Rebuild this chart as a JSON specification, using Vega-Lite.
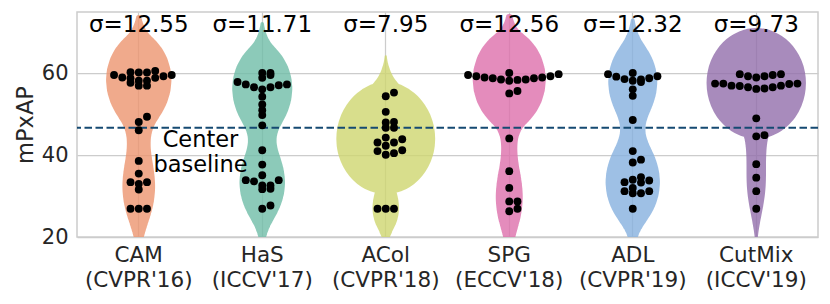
{
  "$schema": "https://vega.github.io/schema/vega-lite/v6.json",
  "width": 741,
  "height": 225,
  "autosize": "none",
  "padding": {"left": 77, "top": 12, "right": 12, "bottom": 67},
  "background": "white",
  "config": {
    "font": "DejaVu Sans",
    "view": {"stroke": "#cccccc", "strokeWidth": 1.5},
    "axis": {"labelFont": "DejaVu Sans", "titleFont": "DejaVu Sans", "labelColor": "#262626", "titleColor": "#262626", "domain": false, "ticks": false, "gridColor": "#cccccc", "gridWidth": 1.25, "gridOpacity": 1}
  },
  "datasets": {
    "cam": [{"method": "CAM (CVPR'16)", "value": 60.2}, {"method": "CAM (CVPR'16)", "value": 59.0}, {"method": "CAM (CVPR'16)", "value": 58.8}, {"method": "CAM (CVPR'16)", "value": 60.6}, {"method": "CAM (CVPR'16)", "value": 58.2}, {"method": "CAM (CVPR'16)", "value": 59.6}, {"method": "CAM (CVPR'16)", "value": 57.0}, {"method": "CAM (CVPR'16)", "value": 59.3}, {"method": "CAM (CVPR'16)", "value": 57.0}, {"method": "CAM (CVPR'16)", "value": 60.2}, {"method": "CAM (CVPR'16)", "value": 57.7}, {"method": "CAM (CVPR'16)", "value": 58.2}, {"method": "CAM (CVPR'16)", "value": 58.9}, {"method": "CAM (CVPR'16)", "value": 59.6}, {"method": "CAM (CVPR'16)", "value": 60.3}, {"method": "CAM (CVPR'16)", "value": 49.4}, {"method": "CAM (CVPR'16)", "value": 48.1}, {"method": "CAM (CVPR'16)", "value": 46.1}, {"method": "CAM (CVPR'16)", "value": 38.6}, {"method": "CAM (CVPR'16)", "value": 35.5}, {"method": "CAM (CVPR'16)", "value": 33.0}, {"method": "CAM (CVPR'16)", "value": 33.4}, {"method": "CAM (CVPR'16)", "value": 33.4}, {"method": "CAM (CVPR'16)", "value": 31.6}, {"method": "CAM (CVPR'16)", "value": 26.9}, {"method": "CAM (CVPR'16)", "value": 26.9}, {"method": "CAM (CVPR'16)", "value": 26.9}],
    "has": [{"method": "HaS (ICCV'17)", "value": 60.1}, {"method": "HaS (ICCV'17)", "value": 60.1}, {"method": "HaS (ICCV'17)", "value": 58.9}, {"method": "HaS (ICCV'17)", "value": 59.6}, {"method": "HaS (ICCV'17)", "value": 57.9}, {"method": "HaS (ICCV'17)", "value": 57.3}, {"method": "HaS (ICCV'17)", "value": 56.6}, {"method": "HaS (ICCV'17)", "value": 56.1}, {"method": "HaS (ICCV'17)", "value": 56.6}, {"method": "HaS (ICCV'17)", "value": 57.1}, {"method": "HaS (ICCV'17)", "value": 57.3}, {"method": "HaS (ICCV'17)", "value": 54.3}, {"method": "HaS (ICCV'17)", "value": 52.4}, {"method": "HaS (ICCV'17)", "value": 51.0}, {"method": "HaS (ICCV'17)", "value": 49.8}, {"method": "HaS (ICCV'17)", "value": 47.3}, {"method": "HaS (ICCV'17)", "value": 41.2}, {"method": "HaS (ICCV'17)", "value": 37.7}, {"method": "HaS (ICCV'17)", "value": 35.1}, {"method": "HaS (ICCV'17)", "value": 33.9}, {"method": "HaS (ICCV'17)", "value": 33.6}, {"method": "HaS (ICCV'17)", "value": 33.9}, {"method": "HaS (ICCV'17)", "value": 31.8}, {"method": "HaS (ICCV'17)", "value": 31.7}, {"method": "HaS (ICCV'17)", "value": 32.6}, {"method": "HaS (ICCV'17)", "value": 32.6}, {"method": "HaS (ICCV'17)", "value": 27.7}, {"method": "HaS (ICCV'17)", "value": 26.9}],
    "acol": [{"method": "ACol (CVPR'18)", "value": 55.3}, {"method": "ACol (CVPR'18)", "value": 54.4}, {"method": "ACol (CVPR'18)", "value": 50.6}, {"method": "ACol (CVPR'18)", "value": 48.0}, {"method": "ACol (CVPR'18)", "value": 48.1}, {"method": "ACol (CVPR'18)", "value": 46.7}, {"method": "ACol (CVPR'18)", "value": 46.7}, {"method": "ACol (CVPR'18)", "value": 43.9}, {"method": "ACol (CVPR'18)", "value": 43.1}, {"method": "ACol (CVPR'18)", "value": 44.3}, {"method": "ACol (CVPR'18)", "value": 43.1}, {"method": "ACol (CVPR'18)", "value": 42.3}, {"method": "ACol (CVPR'18)", "value": 40.5}, {"method": "ACol (CVPR'18)", "value": 40.1}, {"method": "ACol (CVPR'18)", "value": 41.0}, {"method": "ACol (CVPR'18)", "value": 41.2}, {"method": "ACol (CVPR'18)", "value": 26.9}, {"method": "ACol (CVPR'18)", "value": 26.9}, {"method": "ACol (CVPR'18)", "value": 26.9}],
    "spg": [{"method": "SPG (ECCV'18)", "value": 60.1}, {"method": "SPG (ECCV'18)", "value": 59.3}, {"method": "SPG (ECCV'18)", "value": 59.0}, {"method": "SPG (ECCV'18)", "value": 59.0}, {"method": "SPG (ECCV'18)", "value": 58.5}, {"method": "SPG (ECCV'18)", "value": 58.4}, {"method": "SPG (ECCV'18)", "value": 58.2}, {"method": "SPG (ECCV'18)", "value": 58.5}, {"method": "SPG (ECCV'18)", "value": 58.8}, {"method": "SPG (ECCV'18)", "value": 58.8}, {"method": "SPG (ECCV'18)", "value": 59.3}, {"method": "SPG (ECCV'18)", "value": 59.6}, {"method": "SPG (ECCV'18)", "value": 59.8}, {"method": "SPG (ECCV'18)", "value": 55.7}, {"method": "SPG (ECCV'18)", "value": 55.1}, {"method": "SPG (ECCV'18)", "value": 44.1}, {"method": "SPG (ECCV'18)", "value": 36.1}, {"method": "SPG (ECCV'18)", "value": 32.0}, {"method": "SPG (ECCV'18)", "value": 28.7}, {"method": "SPG (ECCV'18)", "value": 28.7}, {"method": "SPG (ECCV'18)", "value": 26.9}, {"method": "SPG (ECCV'18)", "value": 26.3}],
    "adl": [{"method": "ADL (CVPR'19)", "value": 59.3}, {"method": "ADL (CVPR'19)", "value": 58.8}, {"method": "ADL (CVPR'19)", "value": 58.5}, {"method": "ADL (CVPR'19)", "value": 60.1}, {"method": "ADL (CVPR'19)", "value": 57.9}, {"method": "ADL (CVPR'19)", "value": 58.2}, {"method": "ADL (CVPR'19)", "value": 58.6}, {"method": "ADL (CVPR'19)", "value": 59.2}, {"method": "ADL (CVPR'19)", "value": 59.8}, {"method": "ADL (CVPR'19)", "value": 56.1}, {"method": "ADL (CVPR'19)", "value": 54.5}, {"method": "ADL (CVPR'19)", "value": 48.6}, {"method": "ADL (CVPR'19)", "value": 41.0}, {"method": "ADL (CVPR'19)", "value": 38.9}, {"method": "ADL (CVPR'19)", "value": 38.2}, {"method": "ADL (CVPR'19)", "value": 34.0}, {"method": "ADL (CVPR'19)", "value": 33.4}, {"method": "ADL (CVPR'19)", "value": 33.3}, {"method": "ADL (CVPR'19)", "value": 33.8}, {"method": "ADL (CVPR'19)", "value": 34.6}, {"method": "ADL (CVPR'19)", "value": 31.2}, {"method": "ADL (CVPR'19)", "value": 30.7}, {"method": "ADL (CVPR'19)", "value": 30.7}, {"method": "ADL (CVPR'19)", "value": 31.2}, {"method": "ADL (CVPR'19)", "value": 32.0}, {"method": "ADL (CVPR'19)", "value": 26.9}],
    "cutmix": [{"method": "CutMix (ICCV'19)", "value": 59.8}, {"method": "CutMix (ICCV'19)", "value": 59.6}, {"method": "CutMix (ICCV'19)", "value": 59.3}, {"method": "CutMix (ICCV'19)", "value": 59.0}, {"method": "CutMix (ICCV'19)", "value": 59.3}, {"method": "CutMix (ICCV'19)", "value": 59.8}, {"method": "CutMix (ICCV'19)", "value": 57.5}, {"method": "CutMix (ICCV'19)", "value": 57.5}, {"method": "CutMix (ICCV'19)", "value": 57.0}, {"method": "CutMix (ICCV'19)", "value": 56.6}, {"method": "CutMix (ICCV'19)", "value": 56.3}, {"method": "CutMix (ICCV'19)", "value": 56.2}, {"method": "CutMix (ICCV'19)", "value": 56.6}, {"method": "CutMix (ICCV'19)", "value": 56.9}, {"method": "CutMix (ICCV'19)", "value": 57.0}, {"method": "CutMix (ICCV'19)", "value": 57.4}, {"method": "CutMix (ICCV'19)", "value": 57.5}, {"method": "CutMix (ICCV'19)", "value": 49.0}, {"method": "CutMix (ICCV'19)", "value": 44.9}, {"method": "CutMix (ICCV'19)", "value": 44.6}, {"method": "CutMix (ICCV'19)", "value": 37.8}, {"method": "CutMix (ICCV'19)", "value": 34.5}, {"method": "CutMix (ICCV'19)", "value": 31.2}, {"method": "CutMix (ICCV'19)", "value": 26.9}],
    "stats": [
      {"method": "CAM (CVPR'16)", "sigma": "σ=12.55"},
      {"method": "HaS (ICCV'17)", "sigma": "σ=11.71"},
      {"method": "ACol (CVPR'18)", "sigma": "σ=7.95"},
      {"method": "SPG (ECCV'18)", "sigma": "σ=12.56"},
      {"method": "ADL (CVPR'19)", "sigma": "σ=12.32"},
      {"method": "CutMix (ICCV'19)", "sigma": "σ=9.73"}
    ]
  },
  "layer": [
    {
      "data": {"name": "cam"},
      "transform": [{"density": "value", "groupby": ["method"], "bandwidth": 6.5, "extent": [13.9, 73.6], "steps": 150}],
      "mark": {"type": "trail", "opacity": 0.8, "clip": true},
      "encoding": {
        "x": {"field": "method", "type": "nominal", "title": null,
          "scale": {"domain": ["CAM (CVPR'16)", "HaS (ICCV'17)", "ACol (CVPR'18)", "SPG (ECCV'18)", "ADL (CVPR'19)", "CutMix (ICCV'19)"], "paddingInner": 0, "paddingOuter": 0},
          "axis": {"labelExpr": "split(datum.label, ' ')", "labelFontSize": 21.5, "labelPadding": 7, "labelLineHeight": 25.5, "labelAngle": 0, "grid": true, "bandPosition": 0.5}},
        "y": {"field": "value", "type": "quantitative", "title": "mPxAP",
          "scale": {"domain": [20, 75], "nice": false, "zero": false},
          "axis": {"values": [20, 40, 60], "labelFontSize": 21, "labelPadding": 9, "titleFontSize": 22.5, "titleFontWeight": "normal", "titleX": -45, "titleY": 112.5, "titleAngle": 270, "titleBaseline": "alphabetic", "titleAlign": "center", "grid": true}},
        "size": {"field": "density", "type": "quantitative", "scale": {"type": "linear", "domain": [0, 0.0535], "range": [0, 98.8], "nice": false}, "legend": null},
        "color": {"field": "method", "type": "nominal", "scale": {"domain": ["CAM (CVPR'16)", "HaS (ICCV'17)", "ACol (CVPR'18)", "SPG (ECCV'18)", "ADL (CVPR'19)", "CutMix (ICCV'19)"], "range": ["#ec956f", "#6fbda7", "#ced66f", "#dd6fab", "#86b0de", "#926eab"]}, "legend": null},
        "order": {"field": "value", "type": "quantitative"}
      }
    },
    {
      "data": {"name": "has"},
      "transform": [{"density": "value", "groupby": ["method"], "bandwidth": 6.0, "extent": [14.9, 72.1], "steps": 150}],
      "mark": {"type": "trail", "opacity": 0.8, "clip": true},
      "encoding": {"x": {"field": "method", "type": "nominal"}, "y": {"field": "value", "type": "quantitative"}, "size": {"field": "density", "type": "quantitative", "legend": null}, "color": {"field": "method", "type": "nominal", "legend": null}, "order": {"field": "value", "type": "quantitative"}}
    },
    {
      "data": {"name": "acol"},
      "transform": [{"density": "value", "groupby": ["method"], "bandwidth": 4.45, "extent": [18.0, 64.2], "steps": 150}],
      "mark": {"type": "trail", "opacity": 0.8, "clip": true},
      "encoding": {"x": {"field": "method", "type": "nominal"}, "y": {"field": "value", "type": "quantitative"}, "size": {"field": "density", "type": "quantitative", "legend": null}, "color": {"field": "method", "type": "nominal", "legend": null}, "order": {"field": "value", "type": "quantitative"}}
    },
    {
      "data": {"name": "spg"},
      "transform": [{"density": "value", "groupby": ["method"], "bandwidth": 6.8, "extent": [12.7, 73.7], "steps": 150}],
      "mark": {"type": "trail", "opacity": 0.8, "clip": true},
      "encoding": {"x": {"field": "method", "type": "nominal"}, "y": {"field": "value", "type": "quantitative"}, "size": {"field": "density", "type": "quantitative", "legend": null}, "color": {"field": "method", "type": "nominal", "legend": null}, "order": {"field": "value", "type": "quantitative"}}
    },
    {
      "data": {"name": "adl"},
      "transform": [{"density": "value", "groupby": ["method"], "bandwidth": 6.4, "extent": [14.1, 72.9], "steps": 150}],
      "mark": {"type": "trail", "opacity": 0.8, "clip": true},
      "encoding": {"x": {"field": "method", "type": "nominal"}, "y": {"field": "value", "type": "quantitative"}, "size": {"field": "density", "type": "quantitative", "legend": null}, "color": {"field": "method", "type": "nominal", "legend": null}, "order": {"field": "value", "type": "quantitative"}}
    },
    {
      "data": {"name": "cutmix"},
      "transform": [{"density": "value", "groupby": ["method"], "bandwidth": 5.2, "extent": [16.5, 70.2], "steps": 150}],
      "mark": {"type": "trail", "opacity": 0.8, "clip": true},
      "encoding": {"x": {"field": "method", "type": "nominal"}, "y": {"field": "value", "type": "quantitative"}, "size": {"field": "density", "type": "quantitative", "legend": null}, "color": {"field": "method", "type": "nominal", "legend": null}, "order": {"field": "value", "type": "quantitative"}}
    },
    {
      "data": {"values": [{"label": "Center baseline"}]},
      "mark": {"type": "rule", "color": "#154a72", "strokeWidth": 2, "strokeDash": [7.5, 3.5]},
      "encoding": {"y": {"datum": 46.7}}
    },
    {"data": {"name": "cam"}, "transform": [{"bin": {"step": 2, "anchor": 0}, "field": "value", "as": "vbin"}, {"window": [{"op": "row_number", "as": "rn"}], "groupby": ["vbin"], "sort": [{"field": "value", "order": "ascending"}]}, {"calculate": "datum.rn % 2 == 0 ? datum.rn / 2 : (1 - datum.rn) / 2", "as": "slot"}],
     "mark": {"type": "circle", "size": 62, "color": "black", "opacity": 1},
     "encoding": {"x": {"field": "method", "type": "nominal"}, "y": {"field": "value", "type": "quantitative"}, "xOffset": {"field": "slot", "type": "quantitative", "scale": {"domain": [-7.5, 7.5]}}}},
    {"data": {"name": "has"}, "transform": [{"bin": {"step": 2, "anchor": 0}, "field": "value", "as": "vbin"}, {"window": [{"op": "row_number", "as": "rn"}], "groupby": ["vbin"], "sort": [{"field": "value", "order": "ascending"}]}, {"calculate": "datum.rn % 2 == 0 ? datum.rn / 2 : (1 - datum.rn) / 2", "as": "slot"}],
     "mark": {"type": "circle", "size": 62, "color": "black", "opacity": 1},
     "encoding": {"x": {"field": "method", "type": "nominal"}, "y": {"field": "value", "type": "quantitative"}, "xOffset": {"field": "slot", "type": "quantitative"}}},
    {"data": {"name": "acol"}, "transform": [{"bin": {"step": 2, "anchor": 0}, "field": "value", "as": "vbin"}, {"window": [{"op": "row_number", "as": "rn"}], "groupby": ["vbin"], "sort": [{"field": "value", "order": "ascending"}]}, {"calculate": "datum.rn % 2 == 0 ? datum.rn / 2 : (1 - datum.rn) / 2", "as": "slot"}],
     "mark": {"type": "circle", "size": 62, "color": "black", "opacity": 1},
     "encoding": {"x": {"field": "method", "type": "nominal"}, "y": {"field": "value", "type": "quantitative"}, "xOffset": {"field": "slot", "type": "quantitative"}}},
    {"data": {"name": "spg"}, "transform": [{"bin": {"step": 2, "anchor": 0}, "field": "value", "as": "vbin"}, {"window": [{"op": "row_number", "as": "rn"}], "groupby": ["vbin"], "sort": [{"field": "value", "order": "ascending"}]}, {"calculate": "datum.rn % 2 == 0 ? datum.rn / 2 : (1 - datum.rn) / 2", "as": "slot"}],
     "mark": {"type": "circle", "size": 62, "color": "black", "opacity": 1},
     "encoding": {"x": {"field": "method", "type": "nominal"}, "y": {"field": "value", "type": "quantitative"}, "xOffset": {"field": "slot", "type": "quantitative"}}},
    {"data": {"name": "adl"}, "transform": [{"bin": {"step": 2, "anchor": 0}, "field": "value", "as": "vbin"}, {"window": [{"op": "row_number", "as": "rn"}], "groupby": ["vbin"], "sort": [{"field": "value", "order": "ascending"}]}, {"calculate": "datum.rn % 2 == 0 ? datum.rn / 2 : (1 - datum.rn) / 2", "as": "slot"}],
     "mark": {"type": "circle", "size": 62, "color": "black", "opacity": 1},
     "encoding": {"x": {"field": "method", "type": "nominal"}, "y": {"field": "value", "type": "quantitative"}, "xOffset": {"field": "slot", "type": "quantitative"}}},
    {"data": {"name": "cutmix"}, "transform": [{"bin": {"step": 2, "anchor": 0}, "field": "value", "as": "vbin"}, {"window": [{"op": "row_number", "as": "rn"}], "groupby": ["vbin"], "sort": [{"field": "value", "order": "ascending"}]}, {"calculate": "datum.rn % 2 == 0 ? datum.rn / 2 : (1 - datum.rn) / 2", "as": "slot"}],
     "mark": {"type": "circle", "size": 62, "color": "black", "opacity": 1},
     "encoding": {"x": {"field": "method", "type": "nominal"}, "y": {"field": "value", "type": "quantitative"}, "xOffset": {"field": "slot", "type": "quantitative"}}},
    {
      "data": {"name": "stats"},
      "mark": {"type": "text", "fontSize": 23, "color": "black", "baseline": "alphabetic", "align": "center"},
      "encoding": {"x": {"field": "method", "type": "nominal"}, "y": {"datum": 70.1}, "text": {"field": "sigma"}}
    },
    {
      "data": {"values": [{"note": "Center baseline"}]},
      "mark": {"type": "text", "fontSize": 22.5, "color": "black", "baseline": "alphabetic", "align": "center", "lineHeight": 24.5, "text": ["Center", "baseline"]},
      "encoding": {"x": {"datum": "CAM (CVPR'16)", "type": "nominal"}, "xOffset": {"datum": 7.5, "type": "quantitative"}, "y": {"datum": 42.0}}
    }
  ]
}
